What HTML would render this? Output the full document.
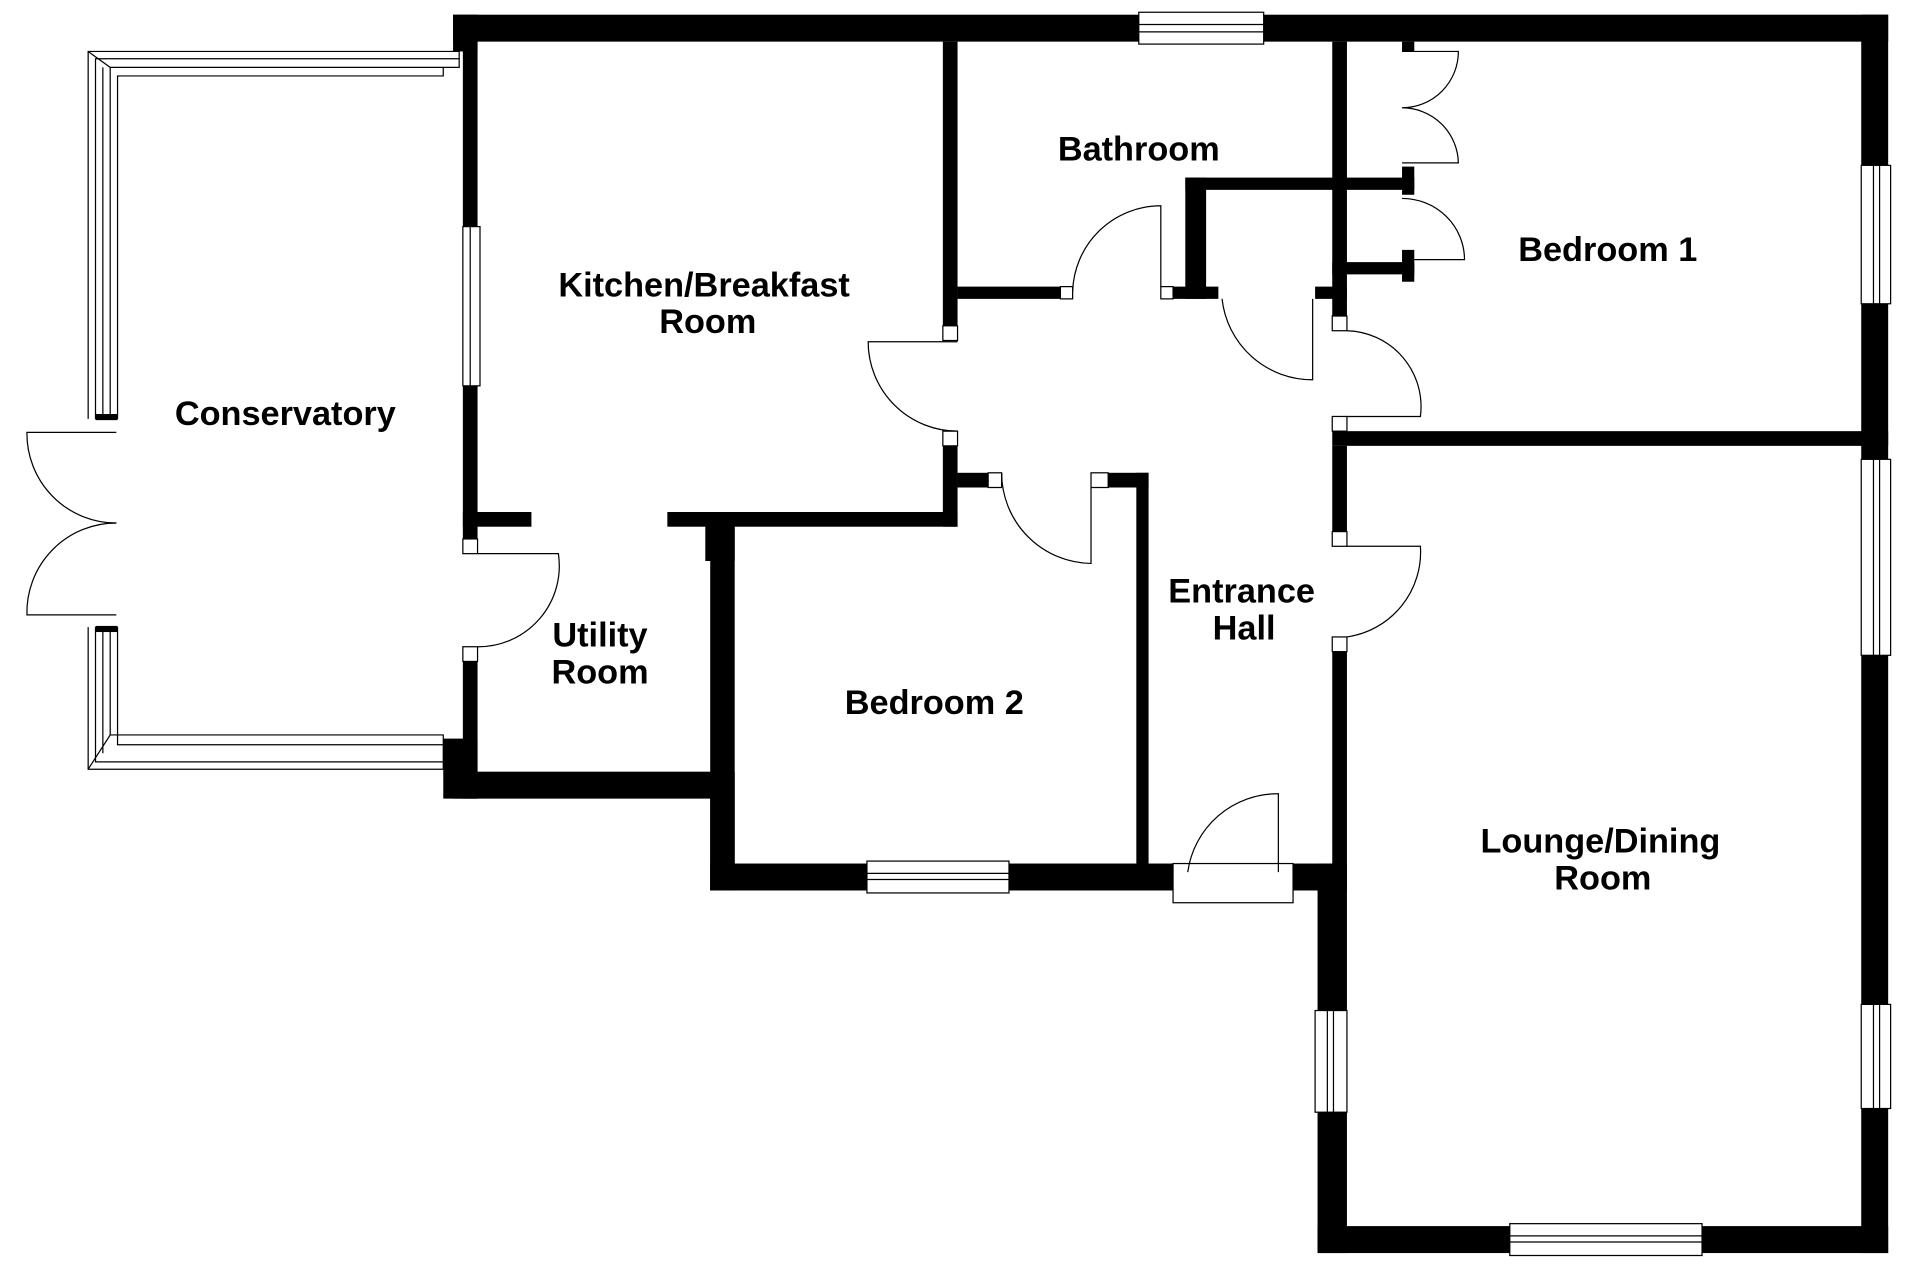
<!DOCTYPE html>
<html><head><meta charset="utf-8"><style>
html,body{margin:0;padding:0;background:#fff;}
svg{display:block;}
text{font-family:"Liberation Sans",sans-serif;font-weight:bold;font-size:28px;fill:#000;text-anchor:middle;}
</style></head><body>
<svg width="1920" height="1280" viewBox="0 0 1568 1045" preserveAspectRatio="none" xmlns="http://www.w3.org/2000/svg">
<g fill="#000">
<rect x="370" y="12" width="560" height="22"/>
<rect x="1032" y="12" width="510" height="22"/>
<rect x="1520" y="12" width="22" height="123"/>
<rect x="1520" y="248" width="22" height="127"/>
<rect x="1520" y="535" width="22" height="285"/>
<rect x="1520" y="905" width="22" height="118"/>
<rect x="1088" y="352" width="454" height="12"/>
<rect x="1076" y="1001" width="157" height="22"/>
<rect x="1390" y="1001" width="152" height="22"/>
<rect x="1076" y="705" width="24" height="120"/>
<rect x="1076" y="908" width="24" height="115"/>
<rect x="1088" y="364" width="12" height="76"/>
<rect x="1088" y="520" width="12" height="190"/>
<rect x="1056" y="705" width="44" height="22"/>
<rect x="580" y="705" width="128" height="22"/>
<rect x="824" y="705" width="134" height="22"/>
<rect x="580" y="430" width="20" height="297"/>
<rect x="928" y="386" width="10" height="324"/>
<rect x="905" y="386" width="33" height="12"/>
<rect x="545" y="418" width="237" height="12"/>
<rect x="576" y="418" width="24" height="40"/>
<rect x="782" y="386" width="25" height="12"/>
<rect x="370" y="630" width="225" height="22"/>
<rect x="580" y="630" width="20" height="97"/>
<rect x="362" y="603" width="28" height="49"/>
<rect x="378" y="540" width="12" height="112"/>
<rect x="378" y="418" width="56" height="12"/>
<rect x="378" y="34" width="12" height="151"/>
<rect x="378" y="315" width="12" height="125"/>
<rect x="370" y="12" width="20" height="30"/>
<rect x="770" y="34" width="12" height="236"/>
<rect x="770" y="352" width="12" height="78"/>
<rect x="782" y="234" width="84" height="10"/>
<rect x="958" y="234" width="37" height="10"/>
<rect x="968" y="145" width="17" height="99"/>
<rect x="968" y="145" width="187" height="10"/>
<rect x="1145" y="136" width="10" height="23"/>
<rect x="1088" y="34" width="12" height="224"/>
<rect x="1074" y="234" width="26" height="10"/>
<rect x="1088" y="214" width="67" height="10"/>
<rect x="1145" y="204" width="10" height="26"/>
<rect x="1145" y="34" width="10" height="8"/>
</g>
<g fill="#fff" stroke="#000" stroke-width="1">
<rect x="930" y="10" width="102" height="26"/><line x1="930" y1="20" x2="1032" y2="20"/><line x1="930" y1="26" x2="1032" y2="26"/>
<rect x="1520" y="135" width="24" height="113"/><line x1="1530" y1="135" x2="1530" y2="248"/><line x1="1535" y1="135" x2="1535" y2="248"/>
<rect x="1520" y="375" width="24" height="160"/><line x1="1530" y1="375" x2="1530" y2="535"/><line x1="1535" y1="375" x2="1535" y2="535"/>
<rect x="1520" y="820" width="24" height="85"/><line x1="1530" y1="820" x2="1530" y2="905"/><line x1="1535" y1="820" x2="1535" y2="905"/>
<rect x="1233" y="999" width="157" height="26"/><line x1="1233" y1="1009" x2="1390" y2="1009"/><line x1="1233" y1="1014" x2="1390" y2="1014"/>
<rect x="1074" y="825" width="26" height="83"/><line x1="1084" y1="825" x2="1084" y2="908"/><line x1="1089" y1="825" x2="1089" y2="908"/>
<rect x="708" y="703" width="116" height="26"/><line x1="708" y1="713" x2="824" y2="713"/><line x1="708" y1="718" x2="824" y2="718"/>
<rect x="378" y="185" width="14" height="130"/><line x1="384" y1="185" x2="384" y2="315"/>
<rect x="958" y="705" width="98" height="32"/>
</g>
<g fill="none" stroke="#000" stroke-width="1">
<path d="M72 342 V42 H375 V55 H90 V342"/>
<path d="M78 342 V48 H375 M84 342 V55 M96 342 V62 H362 V55"/>
<path d="M72 512 V628 H362 V600 H90 V512"/>
<path d="M78 512 V622 H362 M84 512 V615 M96 512 V608 H362"/>
<path d="M72 42 L90 55 M72 628 L90 600"/>
</g>
<rect x="78" y="338" width="18" height="5" fill="#000"/>
<rect x="78" y="511" width="18" height="5" fill="#000"/>
<g fill="none" stroke="#000" stroke-width="1">
<path d="M95 353 H22 A73 73 0 0 0 95 427"/>
<path d="M95 502 H22 A73 73 0 0 1 95 427"/>
<path d="M390 452 H456 A66 66 0 0 1 390 528"/>
<path d="M782 279 H709 A73 73 0 0 0 782 352"/>
<path d="M818 386 A74 74 0 0 0 891 460 V398"/>
<path d="M876 238 A72 72 0 0 1 948 168 V234"/>
<path d="M998 244 A74 74 0 0 0 1072 310 V244"/>
<path d="M1100 270 A62 62 0 0 1 1160 340 H1100"/>
<path d="M1100 446 H1160 A70 70 0 0 1 1100 520"/>
<path d="M970 712 A74 74 0 0 1 1044 648 V712"/>
<path d="M1145 42 H1191 A46 46 0 0 1 1145 88 A46 46 0 0 1 1191 133 H1145"/>
<path d="M1145 162 A51 50 0 0 1 1196 212 H1145"/>
</g>
<g fill="#fff" stroke="#000" stroke-width="1">
<rect x="378" y="440" width="12" height="12"/><rect x="378" y="528" width="12" height="12"/>
<rect x="770" y="266" width="12" height="12"/><rect x="770" y="352" width="12" height="12"/>
<rect x="807" y="386" width="11" height="12"/><rect x="891" y="386" width="14" height="12"/>
<rect x="866" y="234" width="10" height="10"/><rect x="948" y="234" width="10" height="10"/>
<rect x="1088" y="258" width="12" height="12"/><rect x="1088" y="340" width="12" height="12"/>
<rect x="1088" y="434" width="12" height="12"/><rect x="1088" y="520" width="12" height="12"/>
</g>
<text x="930" y="131">Bathroom</text>
<text x="575" y="242">Kitchen/Breakfast</text>
<text x="578" y="272">Room</text>
<text x="1313" y="213">Bedroom 1</text>
<text x="233" y="347">Conservatory</text>
<text x="490" y="528">Utility</text>
<text x="490" y="558">Room</text>
<text x="1014" y="492">Entrance</text>
<text x="1016" y="522">Hall</text>
<text x="763" y="583">Bedroom 2</text>
<text x="1307" y="696">Lounge/Dining</text>
<text x="1309" y="726">Room</text>
</svg>
</body></html>
